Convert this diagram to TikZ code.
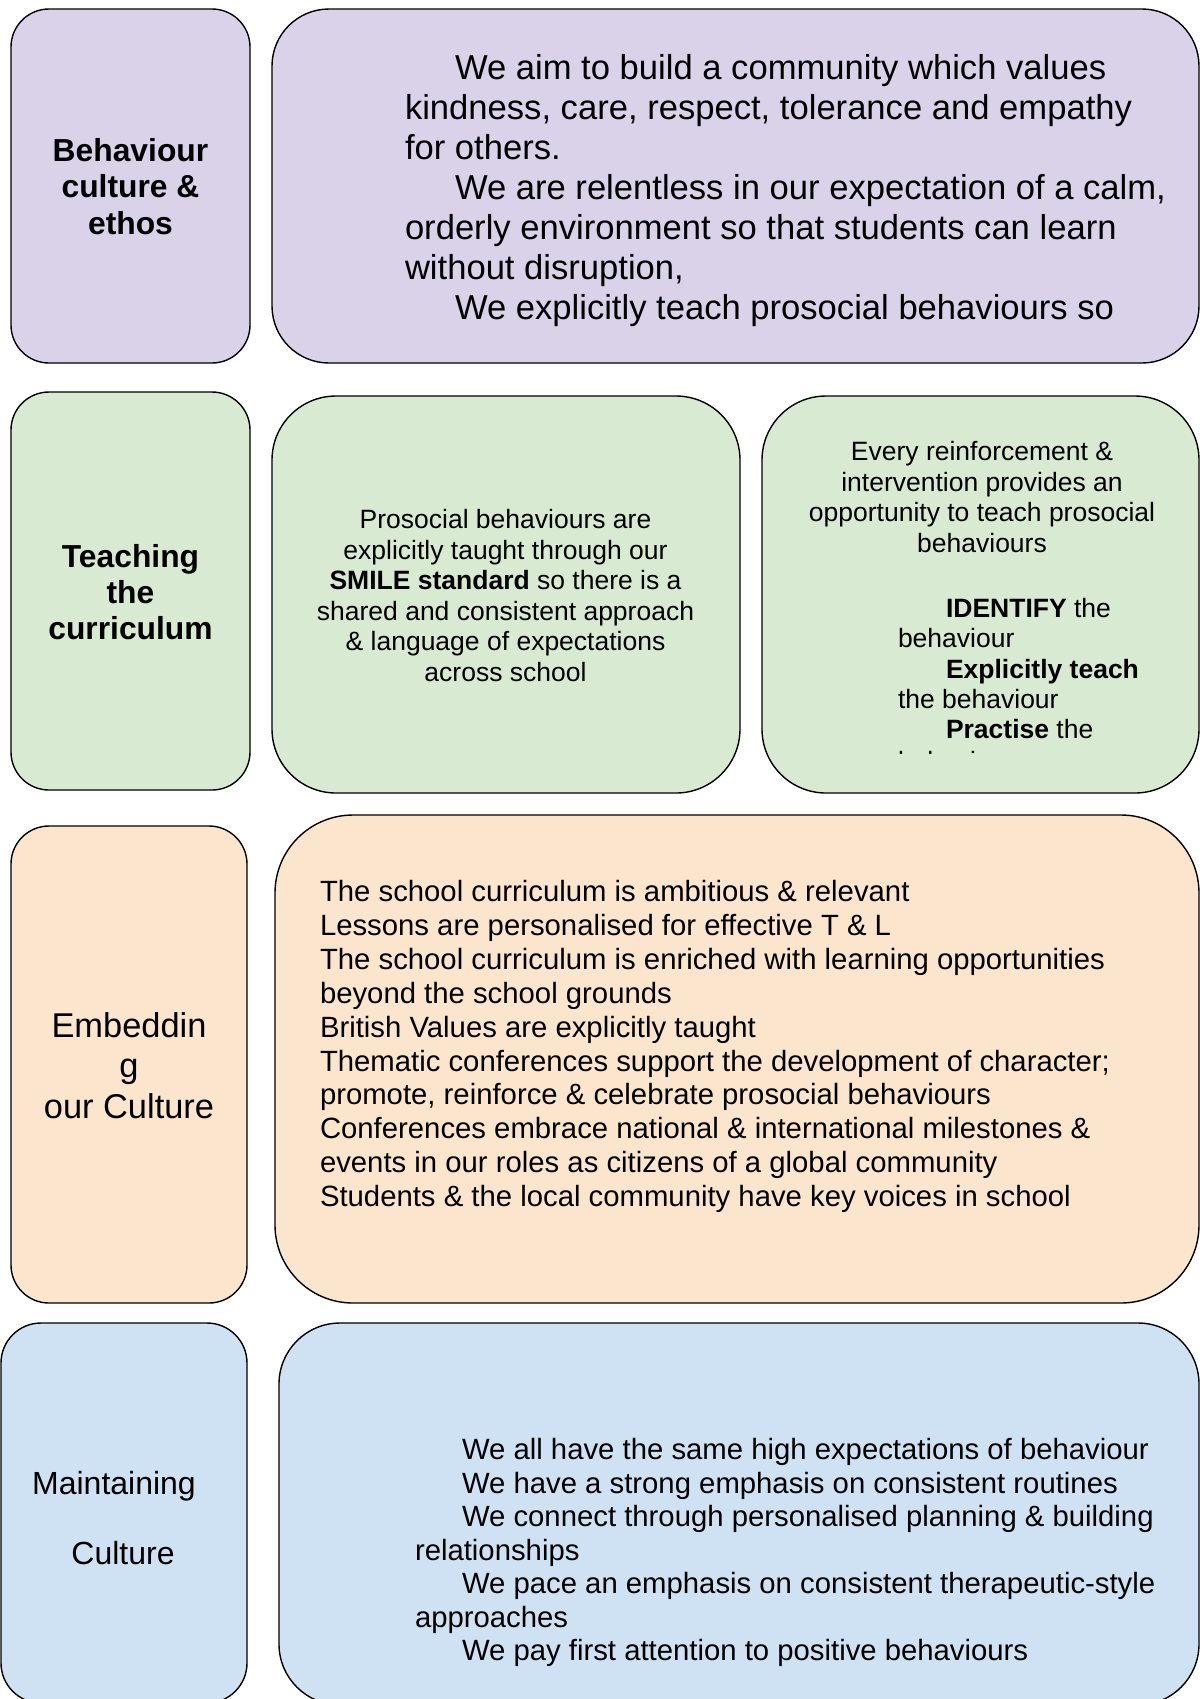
\documentclass[tikz,border=0pt]{standalone}
\usepackage{fontspec}
\setmainfont{Liberation Sans}
\definecolor{cpurple}{HTML}{D9D2E9}
\definecolor{cgreen}{HTML}{D9EAD3}
\definecolor{corange}{HTML}{FCE5CD}
\definecolor{cblue}{HTML}{CFE2F3}
\tikzset{
  box/.style={draw=black, line width=0.7pt},
  lt/.style={inner sep=0pt, outer sep=0pt, anchor=base west},
  ct/.style={inner sep=0pt, outer sep=0pt, anchor=base},
  headb/.style={font=\fontsize{15.9pt}{18pt}\bfseries\selectfont},
  headr/.style={font=\fontsize{17.2pt}{20pt}\selectfont},
  headm/.style={font=\fontsize{16pt}{18pt}\selectfont},
  bodyA/.style={font=\fontsize{17.3pt}{20pt}\selectfont},
  bodyB/.style={font=\fontsize{13.25pt}{15pt}\selectfont},
  bodyC/.style={font=\fontsize{14.65pt}{17pt}\selectfont},
}
\begin{document}
\begin{tikzpicture}[x=0.5pt,y=-0.5pt]
\clip (0,0) rectangle (1200,1699);
\fill[white] (0,0) rectangle (1200,1699);

% ---------- boxes ----------
\path[box, fill=cpurple, rounded corners=19pt] (11,9) rectangle (250,363);
\path[box, fill=cpurple, rounded corners=28.5pt] (272,9) rectangle (1199,363);

\path[box, fill=cgreen, rounded corners=19pt] (11,392) rectangle (250,790);
\path[box, fill=cgreen, rounded corners=32pt] (272,396) rectangle (740,793);
\path[box, fill=cgreen, rounded corners=32pt] (762,396) rectangle (1199,793);

\path[box, fill=corange, rounded corners=19pt] (11,826) rectangle (247,1303);
\path[box, fill=corange, rounded corners=39pt] (275,815) rectangle (1199,1303);

\path[box, fill=cblue, rounded corners=20pt] (1,1323) rectangle (247,1703);
\path[box, fill=cblue, rounded corners=30.5pt] (279,1323) rectangle (1199,1705);

% ---------- row 1 ----------
\node[ct, headb] (h1a) at (130.5,161) {Behaviour};
\node[ct, headb] (h1b) at (130.5,197.7) {culture \&};
\node[ct, headb] (h1c) at (130.5,234.4) {ethos};

\node[lt, bodyA] (p1a) at (455,79) {We aim to build a community which values};
\node[lt, bodyA] (p1b) at (405,119) {kindness, care, respect, tolerance and empathy};
\node[lt, bodyA] (p1c) at (405,159) {for others.};
\node[lt, bodyA] (p1d) at (455,199) {We are relentless in our expectation of a calm,};
\node[lt, bodyA] (p1e) at (405,239) {orderly environment so that students can learn};
\node[lt, bodyA] (p1f) at (405,279) {without disruption,};
\node[lt, bodyA] (p1g) at (455,319) {We explicitly teach prosocial behaviours so};

% ---------- row 2 ----------
\node[ct, headb] (h2a) at (130.5,567) {Teaching};
\node[ct, headb] (h2b) at (130.5,603) {the};
\node[ct, headb] (h2c) at (130.5,639) {curriculum};

\node[ct, bodyB] (m2a) at (505.5,528.5) {Prosocial behaviours are};
\node[ct, bodyB] (m2b) at (505.5,559.1) {explicitly taught through our};
\node[ct, bodyB] (m2c) at (505.5,589.7) {\textbf{SMILE standard} so there is a};
\node[ct, bodyB] (m2d) at (505.5,620.3) {shared and consistent approach};
\node[ct, bodyB] (m2e) at (505.5,650.9) {\& language of expectations};
\node[ct, bodyB] (m2f) at (505.5,681.5) {across school};

\node[ct, bodyB] (r2a) at (982,460.5) {Every reinforcement \&};
\node[ct, bodyB] (r2b) at (982,491.1) {intervention provides an};
\node[ct, bodyB] (r2c) at (982,521.7) {opportunity to teach prosocial};
\node[ct, bodyB] (r2d) at (982,552.3) {behaviours};

\node[lt, bodyB] (s2a) at (946,617.5) {\textbf{IDENTIFY} the};
\node[lt, bodyB] (s2b) at (898,647.8) {behaviour};
\node[lt, bodyB] (s2c) at (946,678.1) {\textbf{Explicitly teach}};
\node[lt, bodyB] (s2d) at (898,708.5) {the behaviour};
\node[lt, bodyB] (s2e) at (946,738.8) {\textbf{Practise} the};
\begin{scope}
  \clip (780,700) rectangle (1190,753.5);
  \node[lt, bodyB] (s2f) at (898,770) {behaviour};
\end{scope}

% ---------- row 3 ----------
\node[ct, headr] (h3a) at (129,1037) {Embeddin};
\node[ct, headr] (h3b) at (129,1077.5) {g};
\node[ct, headr] (h3c) at (129,1118) {our Culture};

\node[lt, bodyC] (e3a) at (320,901.5) {The school curriculum is ambitious \& relevant};
\node[lt, bodyC] (e3b) at (320,935.4) {Lessons are personalised for effective T \& L};
\node[lt, bodyC] (e3c) at (320,969.3) {The school curriculum is enriched with learning opportunities};
\node[lt, bodyC] (e3d) at (320,1003.2) {beyond the school grounds};
\node[lt, bodyC] (e3e) at (320,1037.1) {British Values are explicitly taught};
\node[lt, bodyC] (e3f) at (320,1071) {Thematic conferences support the development of character;};
\node[lt, bodyC] (e3g) at (320,1104.9) {promote, reinforce \& celebrate prosocial behaviours};
\node[lt, bodyC] (e3h) at (320,1138.8) {Conferences embrace national \& international milestones \&};
\node[lt, bodyC] (e3i) at (320,1172.7) {events in our roles as citizens of a global community};
\node[lt, bodyC] (e3j) at (320,1206.6) {Students \& the local community have key voices in school};

% ---------- row 4 ----------
\node[ct, headm] (h4a) at (114,1494.5) {Maintaining};
\node[ct, headm] (h4b) at (123,1564) {Culture};

\node[lt, bodyC] (c4a) at (462,1459.5) {We all have the same high expectations of behaviour};
\node[lt, bodyC] (c4b) at (462,1493) {We have a strong emphasis on consistent routines};
\node[lt, bodyC] (c4c) at (462,1526.5) {We connect through personalised planning \& building};
\node[lt, bodyC] (c4d) at (415,1560) {relationships};
\node[lt, bodyC] (c4e) at (462,1593.5) {We pace an emphasis on consistent therapeutic-style};
\node[lt, bodyC] (c4f) at (415,1627) {approaches};
\node[lt, bodyC] (c4g) at (462,1660.5) {We pay first attention to positive behaviours};
\end{tikzpicture}
\end{document}
